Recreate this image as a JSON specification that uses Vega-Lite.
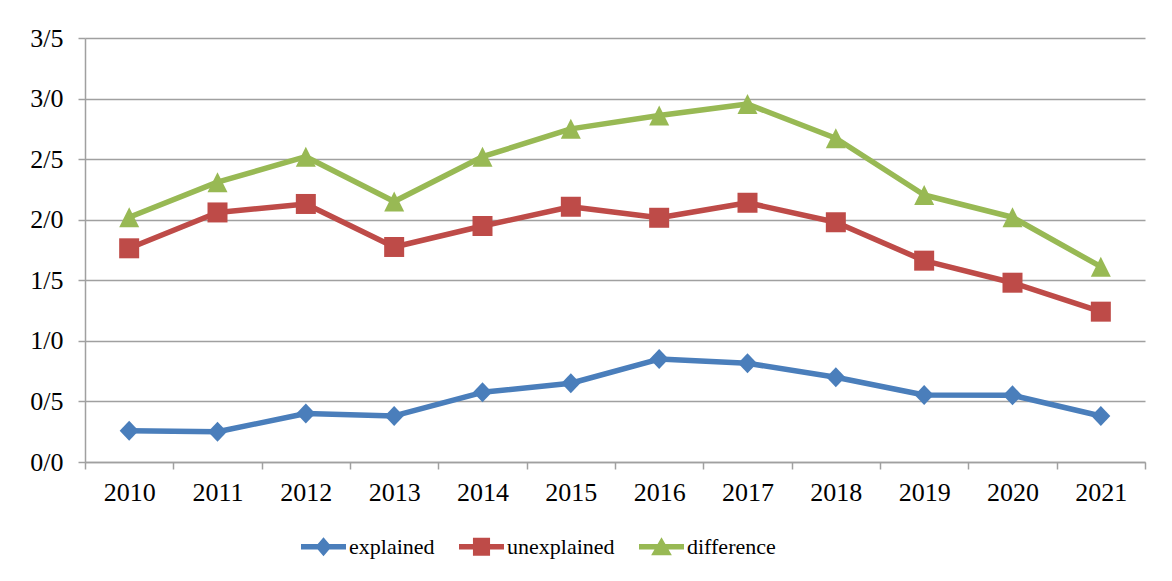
{
  "$schema": "https://vega.github.io/schema/vega-lite/v6.json",
  "autosize": {"type": "none"},
  "padding": {"left": 85, "top": 38, "right": 27, "bottom": 119},
  "width": 1060,
  "height": 424,
  "background": "white",
  "config": {
    "view": {"stroke": null},
    "font": "Liberation Serif",
    "axis": {
      "labelFont": "Liberation Serif",
      "labelColor": "black",
      "domainColor": "#a0a0a0",
      "domainWidth": 1.5,
      "tickColor": "#a0a0a0",
      "tickWidth": 1.5,
      "tickSize": 7,
      "gridColor": "#a0a0a0",
      "gridWidth": 1.5,
      "title": null
    }
  },
  "data": {
    "values": [
      {"year": "2010", "series": "explained", "value": 0.258},
      {"year": "2011", "series": "explained", "value": 0.25},
      {"year": "2012", "series": "explained", "value": 0.40},
      {"year": "2013", "series": "explained", "value": 0.38},
      {"year": "2014", "series": "explained", "value": 0.575},
      {"year": "2015", "series": "explained", "value": 0.65},
      {"year": "2016", "series": "explained", "value": 0.85},
      {"year": "2017", "series": "explained", "value": 0.815},
      {"year": "2018", "series": "explained", "value": 0.70},
      {"year": "2019", "series": "explained", "value": 0.553},
      {"year": "2020", "series": "explained", "value": 0.55},
      {"year": "2021", "series": "explained", "value": 0.38},
      {"year": "2010", "series": "unexplained", "value": 1.764},
      {"year": "2011", "series": "unexplained", "value": 2.06},
      {"year": "2012", "series": "unexplained", "value": 2.13},
      {"year": "2013", "series": "unexplained", "value": 1.775},
      {"year": "2014", "series": "unexplained", "value": 1.948},
      {"year": "2015", "series": "unexplained", "value": 2.107},
      {"year": "2016", "series": "unexplained", "value": 2.016},
      {"year": "2017", "series": "unexplained", "value": 2.14},
      {"year": "2018", "series": "unexplained", "value": 1.979},
      {"year": "2019", "series": "unexplained", "value": 1.662},
      {"year": "2020", "series": "unexplained", "value": 1.48},
      {"year": "2021", "series": "unexplained", "value": 1.241},
      {"year": "2010", "series": "difference", "value": 2.02},
      {"year": "2011", "series": "difference", "value": 2.31},
      {"year": "2012", "series": "difference", "value": 2.52},
      {"year": "2013", "series": "difference", "value": 2.15},
      {"year": "2014", "series": "difference", "value": 2.52},
      {"year": "2015", "series": "difference", "value": 2.75},
      {"year": "2016", "series": "difference", "value": 2.86},
      {"year": "2017", "series": "difference", "value": 2.955},
      {"year": "2018", "series": "difference", "value": 2.672},
      {"year": "2019", "series": "difference", "value": 2.204},
      {"year": "2020", "series": "difference", "value": 2.02},
      {"year": "2021", "series": "difference", "value": 1.612}
    ]
  },
  "encoding": {
    "x": {
      "field": "year",
      "type": "ordinal",
      "scale": {"type": "band", "paddingInner": 0, "paddingOuter": 0},
      "axis": {
        "labelAngle": 0,
        "labelFontSize": 26,
        "labelPadding": 10,
        "tickBand": "extent",
        "grid": false
      }
    },
    "y": {
      "field": "value",
      "type": "quantitative",
      "scale": {"domain": [0, 3.5], "nice": false},
      "axis": {
        "values": [0, 0.5, 1, 1.5, 2, 2.5, 3, 3.5],
        "labelExpr": "replace(format(datum.value, '.1f'), '.', '/')",
        "labelFontSize": 26,
        "labelPadding": 15,
        "grid": true
      }
    },
    "color": {
      "field": "series",
      "type": "nominal",
      "scale": {
        "domain": ["explained", "unexplained", "difference"],
        "range": ["#4A7EBB", "#BE4B48", "#98B954"]
      },
      "legend": {
        "orient": "none",
        "legendX": 216,
        "legendY": 486,
        "direction": "horizontal",
        "title": null,
        "padding": 0,
        "symbolSize": 2025,
        "labelFont": "Liberation Serif",
        "labelFontSize": 22,
        "labelColor": "black",
        "labelOffset": 3,
        "labelLimit": 300,
        "columnPadding": 24,
        "encode": {
          "symbols": {
            "update": {
              "shape": {"signal": "datum.value === 'explained' ? 'M-1,-0.12L1,-0.12L1,0.12L-1,0.12Z M0,-0.42L0.36,0L0,0.42L-0.36,0Z' : datum.value === 'unexplained' ? 'M-1,-0.12L1,-0.12L1,0.12L-1,0.12Z M-0.38,-0.4L0.38,-0.4L0.38,0.4L-0.38,0.4Z' : 'M-1,-0.12L1,-0.12L1,0.12L-1,0.12Z M0,-0.42L0.46,0.38L-0.46,0.38Z'"},
              "fill": {"signal": "scale('color', datum.value)"},
              "stroke": {"value": "transparent"},
              "strokeWidth": {"value": 0},
              "opacity": {"value": 1}
            }
          }
        }
      }
    }
  },
  "layer": [
    {
      "mark": {"type": "line", "strokeWidth": 5.5, "strokeJoin": "round", "strokeCap": "round"}
    },
    {
      "transform": [{"filter": "datum.series === 'explained'"}],
      "mark": {"type": "point", "filled": true, "size": 400, "opacity": 1, "shape": "M0,-1L0.95,0L0,1L-0.95,0Z"}
    },
    {
      "transform": [{"filter": "datum.series === 'unexplained'"}],
      "mark": {"type": "point", "filled": true, "size": 400, "opacity": 1, "shape": "M-1,-1L1,-1L1,1L-1,1Z"}
    },
    {
      "transform": [{"filter": "datum.series === 'difference'"}],
      "mark": {"type": "point", "filled": true, "size": 400, "opacity": 1, "shape": "M0,-1L1,1L-1,1Z"}
    }
  ]
}
